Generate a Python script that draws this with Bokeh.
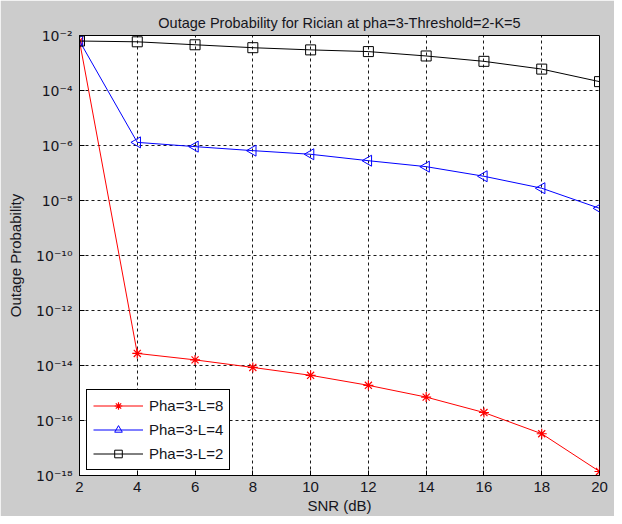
import math
from bokeh.plotting import figure
from bokeh.models import Range1d, FixedTicker, CustomJSTickFormatter, Legend, ColumnDataSource
from bokeh.embed import file_html
from bokeh.resources import INLINE

snr = [2, 4, 6, 8, 10, 12, 14, 16, 18, 20]
out_l8 = [6.3e-3, 2.75e-14, 1.6e-14, 8.5e-15, 4.4e-15, 1.9e-15, 7.1e-16, 1.95e-16, 3.3e-17, 1.4e-18]
out_l4 = [6.3e-3, 1.3e-6, 9.1e-7, 6.5e-7, 4.8e-7, 2.8e-7, 1.7e-7, 7.6e-8, 2.8e-8, 5.2e-9]
out_l2 = [6.3e-3, 5.9e-3, 4.6e-3, 3.6e-3, 3.0e-3, 2.6e-3, 1.8e-3, 1.15e-3, 6.0e-4, 2.1e-4]
labels = ["Pha=3-L=8", "Pha=3-L=4", "Pha=3-L=2"]
x_ticks = [2, 4, 6, 8, 10, 12, 14, 16, 18, 20]
y_ticks = [1e-18, 1e-16, 1e-14, 1e-12, 1e-10, 1e-8, 1e-6, 1e-4, 1e-2]

FONT = "Liberation Sans"
BG = "#cccccc"
TXT = "#151520"

p = figure(width=614, height=516, y_axis_type="log", output_backend="svg",
           toolbar_location=None,
           x_range=Range1d(2, 20), y_range=Range1d(1e-18, 1e-2),
           min_border_left=79, min_border_right=15, min_border_top=35, min_border_bottom=41)
p.background_fill_color = "white"
p.border_fill_color = BG
p.outline_line_color = "black"
p.outline_line_width = 1

p.title.text = "Outage Probability for Rician at pha=3-Threshold=2-K=5"
p.title.align = "center"
p.title.text_font = FONT
p.title.text_font_size = "14.5px"
p.title.text_font_style = "normal"
p.title.text_color = TXT
p.title.standoff = 10

fmt = CustomJSTickFormatter(code="""
const e = Math.round(Math.log10(tick));
const sup = {'-':'\\u207b','0':'\\u2070','1':'\\u00b9','2':'\\u00b2','3':'\\u00b3','4':'\\u2074','5':'\\u2075','6':'\\u2076','7':'\\u2077','8':'\\u2078','9':'\\u2079'};
return '10' + String(e).split('').map(c => sup[c]).join('');
""")

def style_axis(ax):
    ax.major_tick_in = 5
    ax.major_tick_out = 0
    ax.minor_tick_line_color = None
    ax.axis_line_color = "black"
    ax.major_tick_line_color = "black"
    ax.major_label_text_font = FONT
    ax.major_label_text_font_size = "15px"
    ax.major_label_text_color = TXT
    ax.axis_label_text_font = FONT
    ax.axis_label_text_font_style = "normal"
    ax.axis_label_text_font_size = "15px"
    ax.axis_label_text_color = TXT

xa = p.xaxis[0]
xa.ticker = FixedTicker(ticks=x_ticks)
xa.axis_label = "SNR (dB)"
style_axis(xa)
xa.major_label_standoff = 6
xa.axis_label_standoff = 2

ya = p.yaxis[0]
ya.ticker = FixedTicker(ticks=y_ticks)
ya.formatter = fmt
ya.axis_label = "Outage Probability"
style_axis(ya)
ya.major_label_text_font = "DejaVu Sans"
ya.major_label_text_font_size = "14px"
ya.major_label_standoff = 7
ya.axis_label_standoff = 9

p.xgrid.ticker = FixedTicker(ticks=x_ticks)
p.ygrid.ticker = FixedTicker(ticks=y_ticks)
p.grid.grid_line_color = "black"
p.grid.grid_line_dash = "3 3"
p.grid.grid_line_width = 1
p.grid.grid_line_alpha = 0.9

src4 = ColumnDataSource(dict(x=snr, y=out_l4, ang=[math.pi / 2] * len(snr)))

r1 = p.line(snr, out_l8, line_color="red", line_width=1)
m1 = p.scatter(snr, out_l8, marker="asterisk", size=10, line_color="red", line_width=1.2)
r2 = p.line(snr, out_l4, line_color="blue", line_width=1)
m2 = p.scatter("x", "y", source=src4, marker="triangle", angle="ang", size=11,
               line_color="blue", fill_color=None, line_width=1)
r3 = p.line(snr, out_l2, line_color="black", line_width=1)
m3 = p.scatter(snr, out_l2, marker="square", size=10, line_color="black",
               fill_color=None, line_width=1)

legend = Legend(items=[(labels[0], [r1, m1]), (labels[1], [r2, m2]), (labels[2], [r3, m3])],
                location=(7, 5))
legend.label_text_font = FONT
legend.label_text_font_size = "15px"
legend.label_text_color = TXT
legend.border_line_color = "black"
legend.border_line_width = 1
legend.border_line_alpha = 1
legend.background_fill_color = "white"
legend.background_fill_alpha = 1
legend.padding = 6
legend.spacing = 5
legend.glyph_width = 50
legend.glyph_height = 19
legend.label_height = 19
legend.label_standoff = 6
legend.margin = 0
p.add_layout(legend, "center")

open("out.html", "w").write(file_html(p, INLINE))
